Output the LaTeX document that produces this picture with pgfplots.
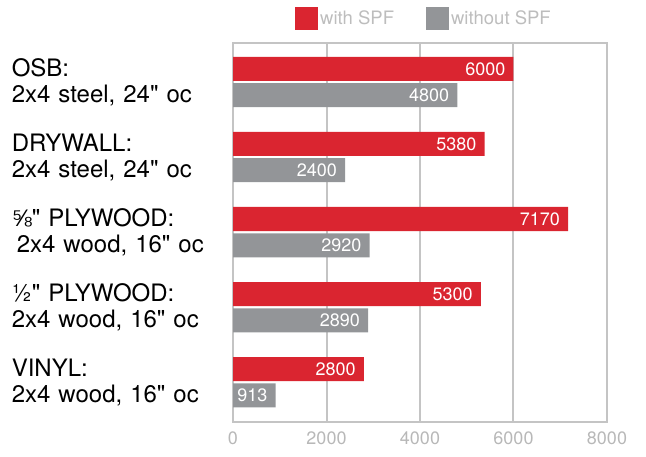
\documentclass[border=0pt]{standalone}
\usepackage{fontspec}
\setmainfont{TeX Gyre Heros}
\newfontfamily\heros{TeX Gyre Heros}
\newfontfamily\lib{Liberation Sans}
\usepackage{pgfplots}
\pgfplotsset{compat=1.18}
\definecolor{spfred}{HTML}{DA2530}
\definecolor{spfgray}{HTML}{939598}
\definecolor{gridgray}{HTML}{C4C4C4}
\definecolor{ticktext}{HTML}{B8B8B8}
\definecolor{legtext}{HTML}{BDBDBD}
\begin{document}
\begin{tikzpicture}
\begin{axis}[
  scale only axis,
  width=374bp, height=379bp,
  xbar,
  xmin=0, xmax=8000,
  ymin=-0.53, ymax=4.52,
  xtick={0,2000,4000,6000,8000},
  ytick={0,1,2,3,4},
  yticklabels={{VINYL:\\2x4 wood, 16" oc},{½" PLYWOOD:\\2x4 wood, 16" oc},{{\lib ⅝}" PLYWOOD:\\\hspace{5bp}2x4 wood, 16" oc},{DRYWALL:\\2x4 steel, 24" oc},{OSB:\\2x4 steel, 24" oc}},
  major tick length=0pt,
  xmajorgrids,
  grid style={gridgray, line width=2bp},
  axis line style={gridgray, line width=2bp},
  axis on top=false,
  /pgf/number format/assume math mode=true,
  /pgf/number format/1000 sep={},
  xticklabel style={font=\heros\fontsize{18bp}{20bp}\selectfont, text=ticktext, yshift=-6bp},
  yticklabel style={font=\heros\fontsize{24bp}{26bp}\selectfont, align=left, text width=217bp, inner sep=0pt, anchor=east, xshift=-4bp},
  bar width=0.32,
  nodes near coords,
  nodes near coords style={anchor=east, text=white, font=\heros\fontsize{18bp}{20bp}\selectfont, inner sep=0pt, xshift=-8bp},
  legend style={at={(0.5,1)}, anchor=center, yshift=24.5bp, xshift=4bp, draw=none, fill=none, font=\heros\fontsize{18.5bp}{20bp}\selectfont, text=legtext, legend columns=2, /tikz/every even column/.append style={column sep=30bp}},
  legend image code/.code={\fill[#1] (0bp,-11.5bp) rectangle (23bp,11.5bp);},
]
\addplot[fill=spfred, draw=none, bar shift=0.175] coordinates {(2800,0) (5300,1) (7170,2) (5380,3) (6000,4)};
\addlegendentry{with SPF}
\addplot[fill=spfgray, draw=none, bar shift=-0.175] coordinates {(913,0) (2890,1) (2920,2) (2400,3) (4800,4)};
\addlegendentry{without SPF}
\end{axis}
\path (current axis.south west) ++(-233bp,-34bp) coordinate (a);
\path (current axis.north east) ++(39bp,43bp) coordinate (b);
\path (a) rectangle (b);
\end{tikzpicture}
\end{document}
